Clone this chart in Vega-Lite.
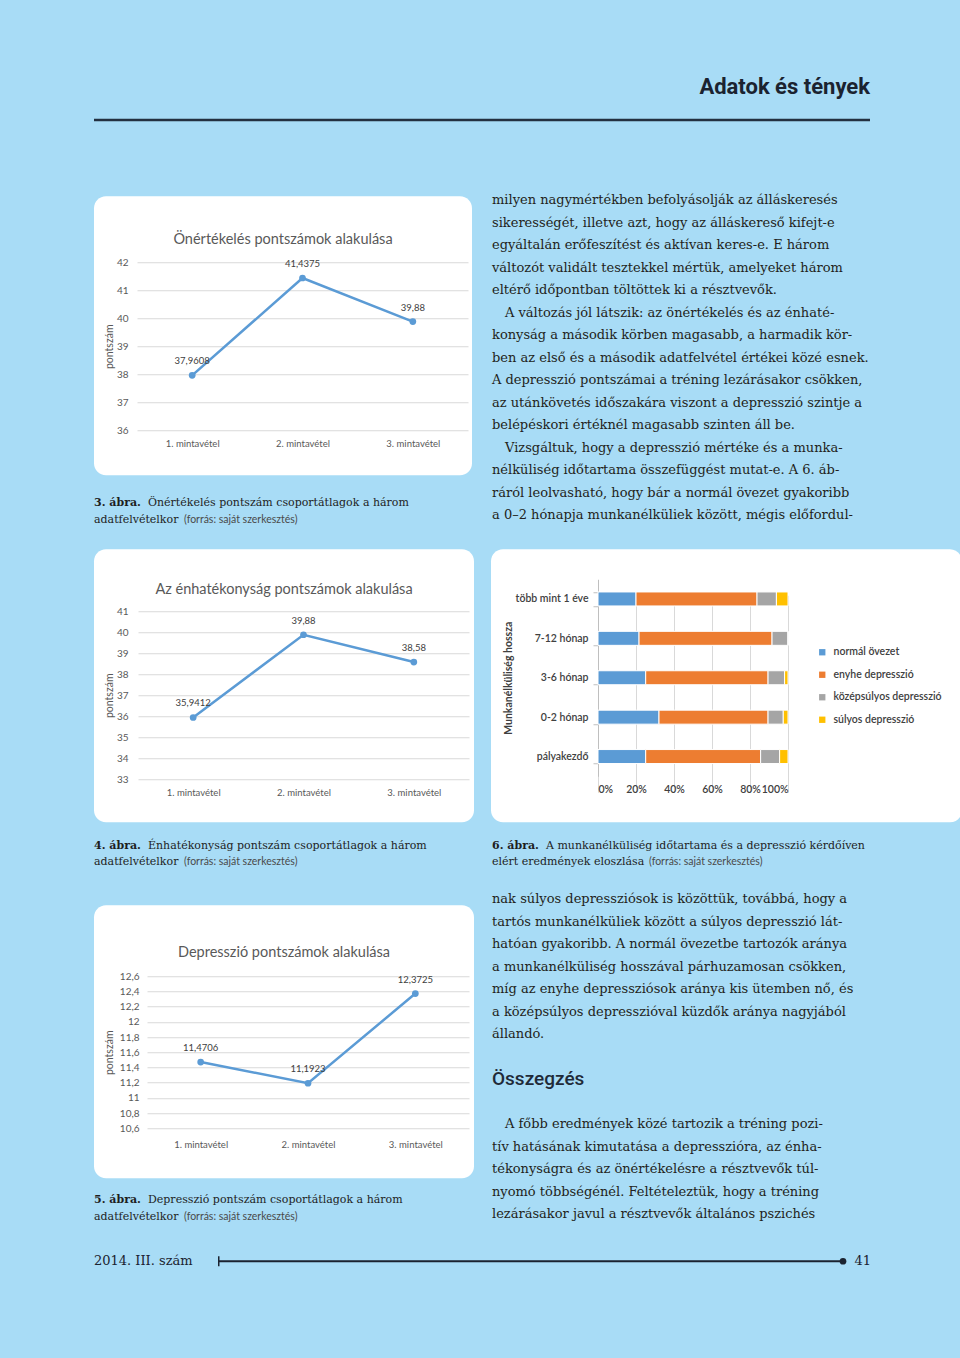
{
  "$schema": "https://vega.github.io/schema/vega-lite/v6.json",
  "background": "#a8dcf6",
  "padding": {"left": 92, "top": 54, "right": 0, "bottom": 75},
  "autosize": {"type": "pad"},
  "config": {
    "view": {"stroke": null},
    "locale": {"number": {"decimal": ",", "thousands": " ", "grouping": [3], "currency": ["", " Ft"]}},
    "axis": {"labelFont": "Lato", "titleFont": "Lato"},
    "legend": {"labelFont": "Lato"},
    "title": {"font": "Lato"}
  },
  "datasets": {
    "fejlec": [{"cim": "Adatok és tények"}],
    "lablec": [{"ev": "2014. III. szám", "oldal": "41"}],
    "szoveg1": [
      {"sor": 0, "szoveg": "milyen nagymértékben befolyásolják az álláskeresés"},
      {"sor": 1, "szoveg": "sikerességét, illetve azt, hogy az álláskereső kifejt-e"},
      {"sor": 2, "szoveg": "egyáltalán erőfeszítést és aktívan keres-e. E három"},
      {"sor": 3, "szoveg": "változót validált tesztekkel mértük, amelyeket három"},
      {"sor": 4, "szoveg": "eltérő időpontban töltöttek ki a résztvevők."},
      {"sor": 5, "szoveg": "\u200b\u2003A változás jól látszik: az önértékelés és az énhaté-"},
      {"sor": 6, "szoveg": "konyság a második körben magasabb, a harmadik kör-"},
      {"sor": 7, "szoveg": "ben az első és a második adatfelvétel értékei közé esnek."},
      {"sor": 8, "szoveg": "A depresszió pontszámai a tréning lezárásakor csökken,"},
      {"sor": 9, "szoveg": "az utánkövetés időszakára viszont a depresszió szintje a"},
      {"sor": 10, "szoveg": "belépéskori értéknél magasabb szinten áll be."},
      {"sor": 11, "szoveg": "\u200b\u2003Vizsgáltuk, hogy a depresszió mértéke és a munka-"},
      {"sor": 12, "szoveg": "nélküliség időtartama összefüggést mutat-e. A 6. áb-"},
      {"sor": 13, "szoveg": "ráról leolvasható, hogy bár a normál övezet gyakoribb"},
      {"sor": 14, "szoveg": "a 0–2 hónapja munkanélküliek között, mégis előfordul-"}
    ],
    "szoveg2": [
      {"sor": 0, "szoveg": "nak súlyos depressziósok is közöttük, továbbá, hogy a"},
      {"sor": 1, "szoveg": "tartós munkanélküliek között a súlyos depresszió lát-"},
      {"sor": 2, "szoveg": "hatóan gyakoribb. A normál övezetbe tartozók aránya"},
      {"sor": 3, "szoveg": "a munkanélküliség hosszával párhuzamosan csökken,"},
      {"sor": 4, "szoveg": "míg az enyhe depressziósok aránya kis ütemben nő, és"},
      {"sor": 5, "szoveg": "a középsúlyos depresszióval küzdők aránya nagyjából"},
      {"sor": 6, "szoveg": "állandó."},
      {"sor": 10, "szoveg": "\u200b\u2003A főbb eredmények közé tartozik a tréning pozi-"},
      {"sor": 11, "szoveg": "tív hatásának kimutatása a depresszióra, az énha-"},
      {"sor": 12, "szoveg": "tékonyságra és az önértékelésre a résztvevők túl-"},
      {"sor": 13, "szoveg": "nyomó többségénél. Feltételeztük, hogy a tréning"},
      {"sor": 14, "szoveg": "lezárásakor javul a résztvevők általános pszichés"}
    ],
    "alcim2": [{"sor": 8, "szoveg": "Összegzés"}],
    "abra3": [
      {"sor": 0, "kiemelt": "3. ábra.", "szoveg": "Önértékelés pontszám csoportátlagok a három", "forras": ""},
      {"sor": 1, "kiemelt": "", "szoveg": "adatfelvételkor", "forras": "(forrás: saját szerkesztés)"}
    ],
    "abra4": [
      {"sor": 0, "kiemelt": "4. ábra.", "szoveg": "Énhatékonyság pontszám csoportátlagok a három", "forras": ""},
      {"sor": 1, "kiemelt": "", "szoveg": "adatfelvételkor", "forras": "(forrás: saját szerkesztés)"}
    ],
    "abra5": [
      {"sor": 0, "kiemelt": "5. ábra.", "szoveg": "Depresszió pontszám csoportátlagok a három", "forras": ""},
      {"sor": 1, "kiemelt": "", "szoveg": "adatfelvételkor", "forras": "(forrás: saját szerkesztés)"}
    ],
    "abra6": [
      {"sor": 0, "kiemelt": "6. ábra.", "szoveg": "A munkanélküliség időtartama és a depresszió kérdőíven", "forras": ""},
      {"sor": 1, "kiemelt": "", "szoveg": "elért eredmények eloszlása", "forras": "(forrás: saját szerkesztés)"}
    ],
    "onertekeles": [
      {"felvetel": "1. mintavétel", "pont": 37.9608},
      {"felvetel": "2. mintavétel", "pont": 41.4375},
      {"felvetel": "3. mintavétel", "pont": 39.88}
    ],
    "onhatekonysag": [
      {"felvetel": "1. mintavétel", "pont": 35.9412},
      {"felvetel": "2. mintavétel", "pont": 39.88},
      {"felvetel": "3. mintavétel", "pont": 38.58}
    ],
    "depresszio": [
      {"felvetel": "1. mintavétel", "pont": 11.4706},
      {"felvetel": "2. mintavétel", "pont": 11.1923},
      {"felvetel": "3. mintavétel", "pont": 12.3725}
    ],
    "munka": [
      {"hossz": "több mint 1 éve", "kategoria": "normál övezet", "sorrend": 1, "arany": 20.0},
      {"hossz": "több mint 1 éve", "kategoria": "enyhe depresszió", "sorrend": 2, "arany": 63.7},
      {"hossz": "több mint 1 éve", "kategoria": "középsúlyos depresszió", "sorrend": 3, "arany": 10.2},
      {"hossz": "több mint 1 éve", "kategoria": "súlyos depresszió", "sorrend": 4, "arany": 6.1},
      {"hossz": "7-12 hónap", "kategoria": "normál övezet", "sorrend": 1, "arany": 21.6},
      {"hossz": "7-12 hónap", "kategoria": "enyhe depresszió", "sorrend": 2, "arany": 70.0},
      {"hossz": "7-12 hónap", "kategoria": "középsúlyos depresszió", "sorrend": 3, "arany": 8.4},
      {"hossz": "7-12 hónap", "kategoria": "súlyos depresszió", "sorrend": 4, "arany": 0.0},
      {"hossz": "3-6 hónap", "kategoria": "normál övezet", "sorrend": 1, "arany": 25.1},
      {"hossz": "3-6 hónap", "kategoria": "enyhe depresszió", "sorrend": 2, "arany": 64.4},
      {"hossz": "3-6 hónap", "kategoria": "középsúlyos depresszió", "sorrend": 3, "arany": 8.7},
      {"hossz": "3-6 hónap", "kategoria": "súlyos depresszió", "sorrend": 4, "arany": 1.8},
      {"hossz": "0-2 hónap", "kategoria": "normál övezet", "sorrend": 1, "arany": 32.1},
      {"hossz": "0-2 hónap", "kategoria": "enyhe depresszió", "sorrend": 2, "arany": 57.4},
      {"hossz": "0-2 hónap", "kategoria": "középsúlyos depresszió", "sorrend": 3, "arany": 8.0},
      {"hossz": "0-2 hónap", "kategoria": "súlyos depresszió", "sorrend": 4, "arany": 2.5},
      {"hossz": "pályakezdő", "kategoria": "normál övezet", "sorrend": 1, "arany": 25.1},
      {"hossz": "pályakezdő", "kategoria": "enyhe depresszió", "sorrend": 2, "arany": 60.5},
      {"hossz": "pályakezdő", "kategoria": "középsúlyos depresszió", "sorrend": 3, "arany": 10.0},
      {"hossz": "pályakezdő", "kategoria": "súlyos depresszió", "sorrend": 4, "arany": 4.4}
    ]
  },
  "spacing": 72.25,
  "vconcat": [
    {
      "width": 776, "height": 66,
      "data": {"name": "fejlec"},
      "layer": [
        {"mark": {"type": "text", "x": "width", "align": "right", "baseline": "middle", "font": "Roboto", "fontWeight": "bold", "fontSize": 22, "color": "#1b2330"}, "encoding": {"text": {"field": "cim"}}},
        {"mark": {"type": "rule", "color": "#233040", "strokeWidth": 2.5}, "encoding": {"x": {"value": 0}, "x2": {"value": "width"}, "y": {"value": "height"}}}
      ]
    },
    {
      "spacing": 0,
      "vconcat": [
        {
          "spacing": 20,
          "hconcat": [
            {
              "spacing": 0,
              "vconcat": [
                {
                  "width": 378, "height": 279,
                  "view": {"fill": "white", "cornerRadius": 12, "stroke": null},
                  "title": {"text": "Önértékelés pontszámok alakulása", "anchor": "middle", "frame": "group", "offset": -58, "baseline": "middle", "font": "Lato", "fontSize": 14.5, "fontWeight": "normal", "color": "#595959"},
                  "data": {"name": "onertekeles"},
                  "encoding": {
                    "x": {"field": "felvetel", "type": "nominal", "sort": null, "scale": {"type": "point", "range": [43, 374], "padding": 0.5},
                      "axis": {"title": null, "orient": "bottom", "offset": -39, "domain": false, "ticks": false, "grid": false, "labelAngle": 0, "labelPadding": 2, "labelFontSize": 9.5, "labelColor": "#595959"}},
                    "y": {"field": "pont", "type": "quantitative", "scale": {"domain": [36, 42], "range": [234, 66], "zero": false, "nice": false},
                      "axis": {"title": "pontszám", "orient": "left", "offset": -40, "values": [36, 37, 38, 39, 40, 41, 42], "format": "d", "domain": false, "ticks": false, "grid": true, "gridColor": "#d9d9d9", "labelPadding": 6, "labelFontSize": 10, "labelColor": "#595959", "titleFontSize": 10.5, "titleFontWeight": "normal", "titleColor": "#595959", "titleX": -25, "titleBaseline": "middle"}}
                  },
                  "layer": [
                    {"mark": {"type": "line", "color": "#5b9bd5", "strokeWidth": 2.5}},
                    {"mark": {"type": "point", "filled": true, "opacity": 1, "color": "#5b9bd5", "size": 45}},
                    {"mark": {"type": "text", "dy": -14, "font": "Lato", "fontSize": 9.5, "color": "#404040"}, "encoding": {"text": {"field": "pont", "type": "quantitative", "format": "~g"}}}
                  ]
                },
                {
                  "width": 378, "height": 69,
                  "data": {"name": "abra3"},
                  "encoding": {"y": {"field": "sor", "type": "ordinal", "axis": null, "scale": {"type": "point", "domain": [0, 1], "range": [28, 45], "padding": 0}}},
                  "layer": [
                    {"mark": {"type": "text", "x": 0, "align": "left", "baseline": "middle", "font": "DejaVu Serif", "fontSize": 11, "fontWeight": "bold", "color": "#1e1e1e"}, "encoding": {"text": {"field": "kiemelt"}}},
                    {"transform": [{"filter": "datum.sor == 0"}], "mark": {"type": "text", "x": 0, "dx": 54, "align": "left", "baseline": "middle", "font": "DejaVu Serif", "fontSize": 11, "color": "#1e1e1e"}, "encoding": {"text": {"field": "szoveg"}}},
                    {"transform": [{"filter": "datum.sor == 1"}], "mark": {"type": "text", "x": 0, "align": "left", "baseline": "middle", "font": "DejaVu Serif", "fontSize": 11, "color": "#1e1e1e"}, "encoding": {"text": {"field": "szoveg"}}},
                    {"mark": {"type": "text", "x": 0, "dx": 90, "align": "left", "baseline": "middle", "font": "Lato", "fontSize": 10.5, "color": "#4a4a4a"}, "encoding": {"text": {"field": "forras"}}}
                  ]
                }
              ]
            },
            {
              "width": 378, "height": 340,
              "data": {"name": "szoveg1"},
              "mark": {"type": "text", "x": 0, "align": "left", "baseline": "middle", "font": "DejaVu Serif", "fontSize": 13, "color": "#231f20"},
              "encoding": {
                "y": {"field": "sor", "type": "ordinal", "axis": null, "scale": {"type": "point", "domain": [0,1,2,3,4,5,6,7,8,9,10,11,12,13,14], "range": [4, 319], "padding": 0}},
                "text": {"field": "szoveg"}
              }
            }
          ]
        },
        {
          "spacing": 17,
          "hconcat": [
            {
              "width": 380, "height": 273,
              "view": {"fill": "white", "cornerRadius": 12, "stroke": null},
              "title": {"text": "Az énhatékonyság pontszámok alakulása", "anchor": "middle", "frame": "group", "offset": -55, "baseline": "middle", "font": "Lato", "fontSize": 14.5, "fontWeight": "normal", "color": "#595959"},
              "data": {"name": "onhatekonysag"},
              "encoding": {
                "x": {"field": "felvetel", "type": "nominal", "sort": null, "scale": {"type": "point", "range": [44, 375], "padding": 0.5},
                  "axis": {"title": null, "orient": "bottom", "offset": -37, "domain": false, "ticks": false, "grid": false, "labelAngle": 0, "labelPadding": 2, "labelFontSize": 9.5, "labelColor": "#595959"}},
                "y": {"field": "pont", "type": "quantitative", "scale": {"domain": [33, 41], "range": [230, 62], "zero": false, "nice": false},
                  "axis": {"title": "pontszám", "orient": "left", "offset": -40, "values": [33, 34, 35, 36, 37, 38, 39, 40, 41], "format": "d", "domain": false, "ticks": false, "grid": true, "gridColor": "#d9d9d9", "labelPadding": 6, "labelFontSize": 10, "labelColor": "#595959", "titleFontSize": 10.5, "titleFontWeight": "normal", "titleColor": "#595959", "titleX": -25, "titleBaseline": "middle"}}
              },
              "layer": [
                {"mark": {"type": "line", "color": "#5b9bd5", "strokeWidth": 2.5}},
                {"mark": {"type": "point", "filled": true, "opacity": 1, "color": "#5b9bd5", "size": 45}},
                {"mark": {"type": "text", "dy": -14, "font": "Lato", "fontSize": 9.5, "color": "#404040"}, "encoding": {"text": {"field": "pont", "type": "quantitative", "format": "~g"}}}
              ]
            },
            {
              "width": 471, "height": 273,
              "view": {"fill": "white", "cornerRadius": 12, "stroke": null},
              "data": {"name": "munka"},
              "mark": {"type": "bar", "stroke": "white", "strokeWidth": 1},
              "encoding": {
                "y": {"field": "hossz", "type": "nominal", "sort": ["több mint 1 éve", "7-12 hónap", "3-6 hónap", "0-2 hónap", "pályakezdő"],
                  "scale": {"range": [30, 227], "paddingInner": 0.645, "paddingOuter": 0.3225},
                  "axis": {"title": "Munkanélküliség hossza", "orient": "left", "offset": -107, "domain": true, "domainColor": "#bfbfbf", "ticks": true, "tickBand": "extent", "tickSize": 5, "tickColor": "#bfbfbf", "labelPadding": 5, "labelFontSize": 10.5, "labelFontWeight": 600, "labelColor": "#404040", "titleFontSize": 10.5, "titleFontWeight": "bold", "titleColor": "#404040", "titleX": -90, "titleBaseline": "middle", "grid": false}},
                "x": {"field": "arany", "type": "quantitative", "stack": "normalize", "scale": {"range": [107, 297]},
                  "axis": {"title": null, "values": [0, 0.2, 0.4, 0.6, 0.8, 1], "format": ".0%", "offset": -40, "domain": false, "ticks": false, "grid": true, "gridColor": "#d9d9d9", "labelPadding": 2, "labelFontSize": 10.5, "labelFontWeight": 600, "labelColor": "#404040"}},
                "order": {"field": "sorrend", "type": "quantitative", "sort": "ascending"},
                "color": {"field": "kategoria", "type": "nominal", "sort": ["normál övezet", "enyhe depresszió", "középsúlyos depresszió", "súlyos depresszió"],
                  "scale": {"domain": ["normál övezet", "enyhe depresszió", "középsúlyos depresszió", "súlyos depresszió"], "range": ["#5b9bd5", "#ed7d31", "#a5a5a5", "#ffc000"]},
                  "legend": {"title": null, "orient": "none", "legendX": 723, "legendY": 593, "symbolType": "square", "symbolSize": 40, "symbolStrokeWidth": 0, "labelFontSize": 10.5, "labelFontWeight": 600, "labelColor": "#404040", "labelOffset": 6, "rowPadding": 11.5}}
              }
            }
          ]
        },
        {
          "spacing": 18,
          "hconcat": [
            {
              "spacing": 0,
              "vconcat": [
                {
                  "width": 380, "height": 83,
                  "data": {"name": "abra4"},
                  "encoding": {"y": {"field": "sor", "type": "ordinal", "axis": null, "scale": {"type": "point", "domain": [0, 1], "range": [24, 40], "padding": 0}}},
                  "layer": [
                    {"mark": {"type": "text", "x": 0, "align": "left", "baseline": "middle", "font": "DejaVu Serif", "fontSize": 11, "fontWeight": "bold", "color": "#1e1e1e"}, "encoding": {"text": {"field": "kiemelt"}}},
                    {"transform": [{"filter": "datum.sor == 0"}], "mark": {"type": "text", "x": 0, "dx": 54, "align": "left", "baseline": "middle", "font": "DejaVu Serif", "fontSize": 11, "color": "#1e1e1e"}, "encoding": {"text": {"field": "szoveg"}}},
                    {"transform": [{"filter": "datum.sor == 1"}], "mark": {"type": "text", "x": 0, "align": "left", "baseline": "middle", "font": "DejaVu Serif", "fontSize": 11, "color": "#1e1e1e"}, "encoding": {"text": {"field": "szoveg"}}},
                    {"mark": {"type": "text", "x": 0, "dx": 90, "align": "left", "baseline": "middle", "font": "Lato", "fontSize": 10.5, "color": "#4a4a4a"}, "encoding": {"text": {"field": "forras"}}}
                  ]
                },
                {
                  "width": 380, "height": 273,
                  "view": {"fill": "white", "cornerRadius": 12, "stroke": null},
                  "title": {"text": "Depresszió pontszámok alakulása", "anchor": "middle", "frame": "group", "offset": -62, "baseline": "middle", "font": "Lato", "fontSize": 14.5, "fontWeight": "normal", "color": "#595959"},
                  "data": {"name": "depresszio"},
                  "encoding": {
                    "x": {"field": "felvetel", "type": "nominal", "sort": null, "scale": {"type": "point", "range": [53, 375], "padding": 0.5},
                      "axis": {"title": null, "orient": "bottom", "offset": -41, "domain": false, "ticks": false, "grid": false, "labelAngle": 0, "labelPadding": 2, "labelFontSize": 9.5, "labelColor": "#595959"}},
                    "y": {"field": "pont", "type": "quantitative", "scale": {"domain": [10.6, 12.6], "range": [223, 71], "zero": false, "nice": false},
                      "axis": {"title": "pontszám", "orient": "left", "offset": -51, "values": [10.6, 10.8, 11, 11.2, 11.4, 11.6, 11.8, 12, 12.2, 12.4, 12.6], "format": ".1~f", "domain": false, "ticks": false, "grid": true, "gridColor": "#d9d9d9", "labelPadding": 6, "labelFontSize": 10, "labelColor": "#595959", "titleFontSize": 10.5, "titleFontWeight": "normal", "titleColor": "#595959", "titleX": -36, "titleBaseline": "middle"}}
                  },
                  "layer": [
                    {"mark": {"type": "line", "color": "#5b9bd5", "strokeWidth": 2.5}},
                    {"mark": {"type": "point", "filled": true, "opacity": 1, "color": "#5b9bd5", "size": 45}},
                    {"mark": {"type": "text", "dy": -14, "font": "Lato", "fontSize": 9.5, "color": "#404040"}, "encoding": {"text": {"field": "pont", "type": "quantitative", "format": "~g"}}}
                  ]
                },
                {
                  "width": 380, "height": 61,
                  "data": {"name": "abra5"},
                  "encoding": {"y": {"field": "sor", "type": "ordinal", "axis": null, "scale": {"type": "point", "domain": [0, 1], "range": [22, 39], "padding": 0}}},
                  "layer": [
                    {"mark": {"type": "text", "x": 0, "align": "left", "baseline": "middle", "font": "DejaVu Serif", "fontSize": 11, "fontWeight": "bold", "color": "#1e1e1e"}, "encoding": {"text": {"field": "kiemelt"}}},
                    {"transform": [{"filter": "datum.sor == 0"}], "mark": {"type": "text", "x": 0, "dx": 54, "align": "left", "baseline": "middle", "font": "DejaVu Serif", "fontSize": 11, "color": "#1e1e1e"}, "encoding": {"text": {"field": "szoveg"}}},
                    {"transform": [{"filter": "datum.sor == 1"}], "mark": {"type": "text", "x": 0, "align": "left", "baseline": "middle", "font": "DejaVu Serif", "fontSize": 11, "color": "#1e1e1e"}, "encoding": {"text": {"field": "szoveg"}}},
                    {"mark": {"type": "text", "x": 0, "dx": 90, "align": "left", "baseline": "middle", "font": "Lato", "fontSize": 10.5, "color": "#4a4a4a"}, "encoding": {"text": {"field": "forras"}}}
                  ]
                }
              ]
            },
            {
              "spacing": 0,
              "vconcat": [
                {
                  "width": 378, "height": 66,
                  "data": {"name": "abra6"},
                  "encoding": {"y": {"field": "sor", "type": "ordinal", "axis": null, "scale": {"type": "point", "domain": [0, 1], "range": [24, 40], "padding": 0}}},
                  "layer": [
                    {"mark": {"type": "text", "x": 0, "align": "left", "baseline": "middle", "font": "DejaVu Serif", "fontSize": 11, "fontWeight": "bold", "color": "#1e1e1e"}, "encoding": {"text": {"field": "kiemelt"}}},
                    {"transform": [{"filter": "datum.sor == 0"}], "mark": {"type": "text", "x": 0, "dx": 54, "align": "left", "baseline": "middle", "font": "DejaVu Serif", "fontSize": 11, "color": "#1e1e1e"}, "encoding": {"text": {"field": "szoveg"}}},
                    {"transform": [{"filter": "datum.sor == 1"}], "mark": {"type": "text", "x": 0, "align": "left", "baseline": "middle", "font": "DejaVu Serif", "fontSize": 11, "color": "#1e1e1e"}, "encoding": {"text": {"field": "szoveg"}}},
                    {"mark": {"type": "text", "x": 0, "dx": 157, "align": "left", "baseline": "middle", "font": "Lato", "fontSize": 10.5, "color": "#4a4a4a"}, "encoding": {"text": {"field": "forras"}}}
                  ]
                },
                {
                  "width": 378, "height": 350,
                  "layer": [
                    {
                      "data": {"name": "szoveg2"},
                      "mark": {"type": "text", "x": 0, "align": "left", "baseline": "middle", "font": "DejaVu Serif", "fontSize": 13, "color": "#231f20"},
                      "encoding": {
                        "y": {"field": "sor", "type": "ordinal", "axis": null, "scale": {"type": "point", "domain": [0,1,2,3,4,5,6,7,8,9,10,11,12,13,14], "range": [11, 326], "padding": 0}},
                        "text": {"field": "szoveg"}
                      }
                    },
                    {
                      "data": {"name": "alcim2"},
                      "mark": {"type": "text", "x": 0, "align": "left", "baseline": "middle", "font": "Roboto", "fontSize": 19, "fontWeight": 500, "color": "#1f2a38"},
                      "encoding": {
                        "y": {"field": "sor", "type": "ordinal", "axis": null},
                        "text": {"field": "szoveg"}
                      }
                    }
                  ]
                }
              ]
            }
          ]
        },
        {
          "spacing": 0,
          "hconcat": [
            {
              "width": 123, "height": 44,
              "data": {"name": "lablec"},
              "mark": {"type": "text", "x": 0, "align": "left", "baseline": "middle", "font": "DejaVu Serif", "fontSize": 13, "color": "#1b2330"},
              "encoding": {"text": {"field": "ev"}}
            },
            {
              "width": 625, "height": 22,
              "data": {"name": "lablec"},
              "layer": [
                {"mark": {"type": "rule", "color": "#1b2330", "strokeWidth": 2}, "encoding": {"x": {"value": 0}, "x2": {"value": "width"}, "y": {"value": "height"}}},
                {"mark": {"type": "tick", "orient": "vertical", "color": "#1b2330", "thickness": 1.5, "size": 10, "opacity": 1}, "encoding": {"x": {"value": 0.75}, "y": {"value": "height"}}},
                {"mark": {"type": "point", "filled": true, "opacity": 1, "size": 45, "color": "#1b2330"}, "encoding": {"x": {"value": "width"}, "y": {"value": "height"}}}
              ]
            },
            {
              "width": 24, "height": 44,
              "data": {"name": "lablec"},
              "mark": {"type": "text", "x": "width", "align": "right", "baseline": "middle", "font": "DejaVu Serif", "fontSize": 13, "color": "#1b2330"},
              "encoding": {"text": {"field": "oldal"}}
            }
          ]
        }
      ]
    }
  ]
}
